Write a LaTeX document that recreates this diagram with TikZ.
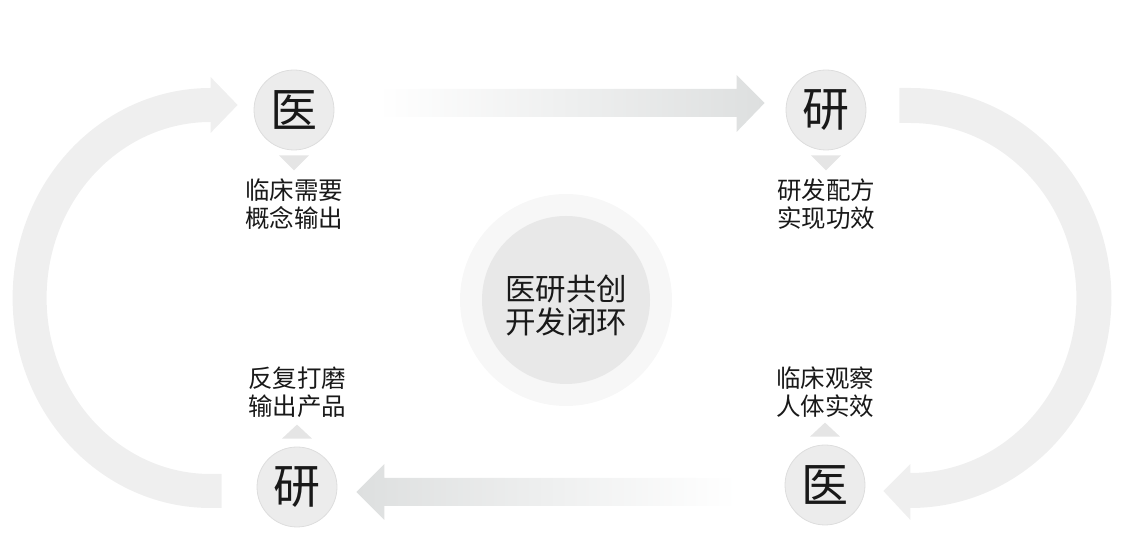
\documentclass[tikz,border=0pt]{standalone}
\usepackage{fontspec}
\usepackage{tikz}
\usetikzlibrary{calc,positioning}
\newfontfamily\cjk{Noto Sans CJK SC}
\definecolor{ringgray}{RGB}{236,236,236}
\definecolor{ringline}{RGB}{221,221,221}
\definecolor{flowgray}{RGB}{239,239,239}
\definecolor{shaftgray}{RGB}{221,223,223}
\definecolor{tipgray}{RGB}{229,229,229}
\definecolor{coregray}{RGB}{232,232,232}
\definecolor{halogray}{RGB}{247,247,247}
\definecolor{inkblack}{RGB}{25,25,25}
\tikzset{
  stage/.style={circle, draw=ringline, line width=0.8pt, fill=ringgray, minimum size=80pt, inner sep=0pt, font=\cjk\fontsize{47}{47}\selectfont, text=inkblack},
  note/.style={align=center, inner sep=0pt, font=\cjk\fontsize{24.5}{28}\selectfont, text=inkblack},
  marker/.style={fill=tipgray},
  flow/.style={fill=flowgray}
}

\begin{document}
\begin{tikzpicture}[x=1pt,y=1pt]
  \useasboundingbox (0,0) rectangle (1125,556);

  % centre
  \node[circle, fill=halogray, minimum size=212pt] (halo) at (566,256) {};
  \node[circle, fill=coregray, minimum size=168pt] (core) at (566,256) {};
  \node[note, font=\cjk\fontsize{30.5}{33}\selectfont] (goal) at ($(core)+(0,-6)$) {医研共创\\开发闭环};

  % four stages
  \node[stage] (yiA) at (294,446) {医};
  \node[stage] (yanA) at (826,446) {研};
  \node[stage] (yiB) at (825,71) {医};
  \node[stage] (yanB) at (297,69) {研};

  % markers and notes
  \fill[marker] ($(yiA.south)+(-15,-5)$) -- ++(30,0) -- ++(-15,-15) -- cycle;
  \node[note] (needA) at ($(yiA)+(0,-94)$) {临床需要\\概念输出};
  \fill[marker] ($(yanA.south)+(-15,-5)$) -- ++(30,0) -- ++(-15,-15) -- cycle;
  \node[note] (needB) at ($(yanA)+(0,-94)$) {研发配方\\实现功效};
  \fill[marker] ($(yiB.north)+(-15,8)$) -- ++(30,0) -- ++(-15,14) -- cycle;
  \node[note] (needC) at ($(yiB)+(0,93)$) {临床观察\\人体实效};
  \fill[marker] ($(yanB.north)+(-15,8)$) -- ++(30,0) -- ++(-15,14) -- cycle;
  \node[note] (needD) at ($(yanB)+(0,95)$) {反复打磨\\输出产品};

  % straight arrows
  \coordinate (topFrom) at ($(yiA.east)+(43,7)$);
  \coordinate (topTo) at ($(yanA.west)+(-21,7)$);
  \shade[left color=white, right color=shaftgray]
    ($(topFrom)+(0,14)$) -- ($(topTo)+(-28,14)$) -- ++(0,14) -- (topTo)
    -- ++(-28,-29) -- ++(0,15) -- ($(topFrom)+(0,-14)$) -- cycle;
  \coordinate (botFrom) at ($(yiB.west)+(-48,-7)$);
  \coordinate (botTo) at ($(yanB.east)+(19,-5)$);
  \shade[left color=shaftgray, right color=white]
    (botTo) -- ++(28,28) -- ++(0,-14) -- ($(botFrom)+(0,14)$) -- ++(0,-28)
    -- ($(botTo)+(28,-14)$) -- ++(0,-14) -- cycle;

  % curved arrows
  \coordinate (leftTip) at ($(yiA.west)+(-16,5)$);
  \fill[flow] (leftTip) -- ++(-27,28) -- ++(0,-11)
    arc[start angle=90, end angle=270, x radius=198, y radius=210]
    -- ++(11,0) -- ++(0,34) -- ++(-11,0)
    arc[start angle=270, end angle=90, x radius=164, y radius=176]
    -- ++(0,-11) -- cycle;
  \coordinate (rightTip) at ($(yiB.east)+(18,-6)$);
  \fill[flow] (rightTip) -- ++(27,-29) -- ++(0,12)
    arc[start angle=-90, end angle=90, x radius=201, y radius=210]
    -- ++(-11,0) -- ++(0,-35) -- ++(11,0)
    arc[start angle=90, end angle=-90, x radius=166, y radius=175]
    -- ++(0,9) -- cycle;
\end{tikzpicture}
\end{document}
